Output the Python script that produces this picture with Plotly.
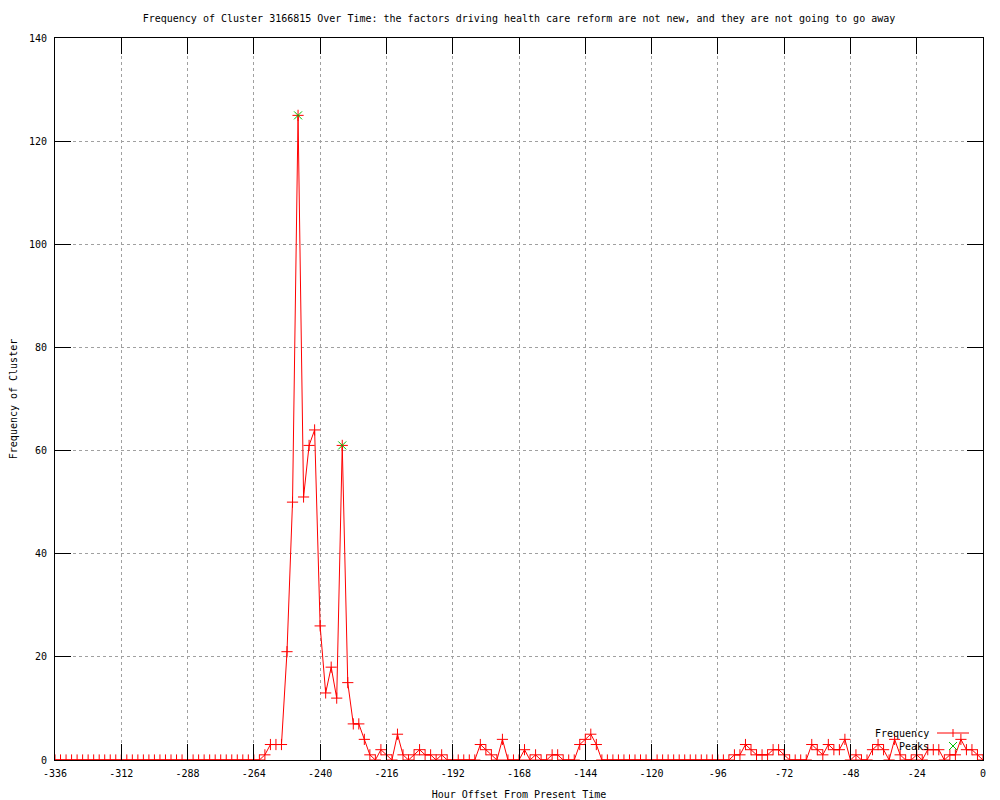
import plotly.graph_objects as go

# ---- data -------------------------------------------------------------
hours = list(range(-336, 2, 2))  # hour offsets, one sample every 2 hours

frequency = (
    [0] * 38
    + [1, 3, 3, 3, 21, 50, 125, 51, 61, 64, 26, 13, 18, 12, 61, 15, 7, 7, 4, 1, 0]
    + [2, 1, 0, 5, 1, 0, 1, 2, 1, 1, 0, 1, 0]
    + [0, 0, 0, 0, 0]
    + [3, 2, 1, 0, 4, 0, 0, 0, 2, 0, 1, 0, 0, 1, 1, 0, 0, 0, 3, 4, 5, 3]
    + [0] * 24
    + [1, 1, 3, 2, 1, 1, 1, 2, 2, 1]
    + [0, 0, 0, 0]
    + [3, 2, 1, 3, 2, 2, 4]
    + [0, 1, 0, 0, 2, 3, 2, 0, 4, 1, 0, 0, 1, 0, 2, 2, 2, 0, 1, 1, 4, 2, 2, 1, 0]
)

peak_hours = [-248, -232]
peak_values = [125, 61]

x_ticks = [-336, -312, -288, -264, -240, -216, -192, -168, -144, -120, -96, -72, -48, -24, 0]
y_ticks = [0, 20, 40, 60, 80, 100, 120, 140]

title_text = ("Frequency of Cluster 3166815 Over Time: the factors driving health care "
              "reform are not new, and they are not going to go away")

# ---- style ------------------------------------------------------------
FONT = "DejaVu Sans Mono"
RED = "#ff0000"
GREEN = "#00c000"

fig = go.Figure()
fig.add_trace(go.Scatter(
    x=hours, y=frequency, mode="lines+markers", name="Frequency",
    line=dict(color=RED, width=1),
    marker=dict(symbol="cross-thin", size=8, line=dict(color=RED, width=1)),
    showlegend=False,
))
fig.add_trace(go.Scatter(
    x=peak_hours, y=peak_values, mode="markers", name="Peaks",
    marker=dict(symbol="x-thin", size=8, line=dict(color=GREEN, width=1)),
    showlegend=False,
))

W, H = 1000, 800
L, R, T, B = 55, 17, 38, 40
pw, ph = W - L - R, H - T - B


def px(xp):
    return (xp - L) / pw


def py(yp):
    return (H - B - yp) / ph


axis_common = dict(
    showline=True, linecolor="black", linewidth=1, mirror="ticks",
    ticks="inside", ticklen=16, tickcolor="black", tickwidth=1,
    showgrid=True, gridcolor="#a0a0a0", griddash="dot", gridwidth=1,
    zeroline=False, tickfont=dict(family=FONT, size=10, color="black"),
    automargin=False,
)

fig.update_xaxes(range=[-336, 0], tickvals=x_ticks, ticktext=[str(v) for v in x_ticks],
                 ticklabelstandoff=4,
                 title=dict(text="Hour Offset From Present Time",
                            font=dict(family=FONT, size=10, color="black"), standoff=12),
                 **axis_common)
fig.update_yaxes(range=[0, 140], tickvals=y_ticks, ticktext=[str(v) for v in y_ticks],
                 ticklabelstandoff=5,
                 title=dict(text="Frequency of Cluster",
                            font=dict(family=FONT, size=10, color="black"), standoff=9),
                 **axis_common)

# legend (gnuplot style: text on the left, sample on the right)
annotations = [
    dict(text="Frequency", x=px(931), y=py(733), xref="paper", yref="paper",
         xanchor="right", yanchor="middle", showarrow=False,
         font=dict(family=FONT, size=10, color="black")),
    dict(text="Peaks", x=px(931), y=py(746), xref="paper", yref="paper",
         xanchor="right", yanchor="middle", showarrow=False,
         font=dict(family=FONT, size=10, color="black")),
]
shapes = [
    dict(type="line", xref="paper", yref="paper", x0=px(937), x1=px(969), y0=py(733), y1=py(733),
         line=dict(color=RED, width=1)),
    dict(type="line", xref="paper", yref="paper", x0=px(953), x1=px(953), y0=py(729), y1=py(737),
         line=dict(color=RED, width=1)),
    dict(type="line", xref="paper", yref="paper", x0=px(949), x1=px(957), y0=py(742), y1=py(750),
         line=dict(color=GREEN, width=1)),
    dict(type="line", xref="paper", yref="paper", x0=px(949), x1=px(957), y0=py(750), y1=py(742),
         line=dict(color=GREEN, width=1)),
]

fig.update_layout(
    width=W, height=H, autosize=False,
    margin=dict(l=L, r=R, t=T, b=B, pad=0, autoexpand=False),
    paper_bgcolor="white", plot_bgcolor="white",
    title=dict(text=title_text, x=0.5, xref="paper", y=1 - 18 / H, yref="container",
               xanchor="center", yanchor="middle",
               font=dict(family=FONT, size=10, color="black")),
    annotations=annotations, shapes=shapes,
    showlegend=False,
)

fig.write_html("out.html", config={"displayModeBar": False},
               post_script="document.body.style.margin='0';")
